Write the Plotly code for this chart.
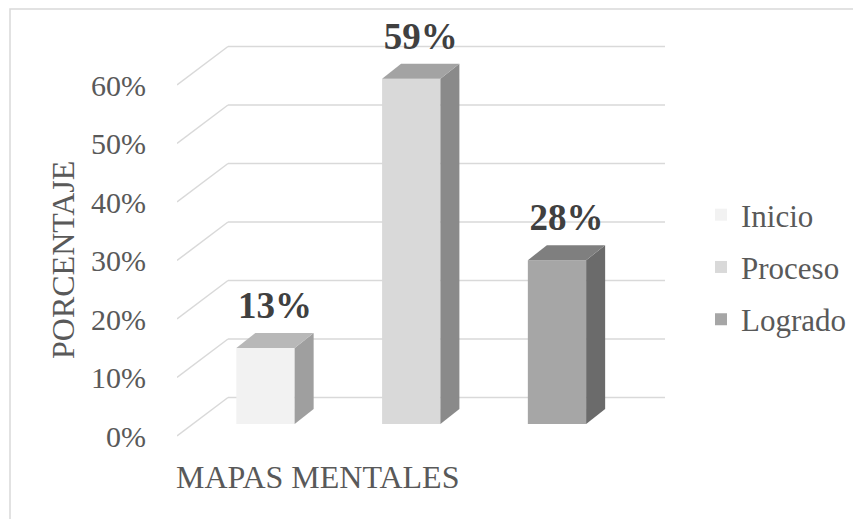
import plotly.graph_objects as go

# ---- data ----
categories = ["Inicio", "Proceso", "Logrado"]
values = [13, 59, 28]
value_labels = ["13%", "59%", "28%"]
tick_values = [0, 10, 20, 30, 40, 50, 60]
tick_labels = ["0%", "10%", "20%", "30%", "40%", "50%", "60%"]
x_title = "MAPAS MENTALES"
y_title = "PORCENTAJE"

# ---- styling ----
front_colors = ["#f2f2f2", "#d9d9d9", "#a6a6a6"]
top_colors = ["#b8b8b8", "#a3a3a3", "#7f7f7f"]
side_colors = ["#9f9f9f", "#8a8a8a", "#6b6b6b"]
grid_color = "#d9d9d9"
text_color = "#595959"
FONT = "Liberation Serif, Times New Roman, serif"

W, H = 861, 519
PAGE_OFF = 8                     # browser body margin
# plot area in screen px
SX0, SX1, SY0, SY1 = 177, 665, 30, 465
L, T = SX0 - PAGE_OFF, SY0 - PAGE_OFF
R, B = W - (SX1 - PAGE_OFF), H - (SY1 - PAGE_OFF)
PW, PH = SX1 - SX0, SY1 - SY0

def px(sx):
    return (sx - SX0) / PW

def py(sy):
    return (SY1 - sy) / PH

X_ORIGIN, Y_ORIGIN = 265.5, 424      # screen px of category 0 / value 0 (bar plane)
X_UNIT = 145.75                      # px per category step
Y_UNIT = 5.85                        # px per 1 %
bar_w = 0.4
bar_dx, bar_dy = 19 / X_UNIT, 15 / Y_UNIT      # bar depth projection
wall_dy = 26.5 / Y_UNIT                         # back wall above bar plane
front_dy = -12 / Y_UNIT                         # front floor edge
wall_x0 = (228 - X_ORIGIN) / X_UNIT
wall_x1 = (665 - X_ORIGIN) / X_UNIT
diag_x0 = (177 - X_ORIGIN) / X_UNIT

x_range = [(SX0 - X_ORIGIN) / X_UNIT, (SX1 - X_ORIGIN) / X_UNIT]
y_range = [(Y_ORIGIN - SY1) / Y_UNIT, (Y_ORIGIN - SY0) / Y_UNIT]

fig = go.Figure()
xs = list(range(len(categories)))

# front faces
for i, (c, v) in enumerate(zip(categories, values)):
    fig.add_trace(go.Bar(
        x=[xs[i]], y=[v], width=bar_w, name=c,
        marker=dict(color=front_colors[i], line=dict(width=0)),
        legendgroup=c, showlegend=True, hoverinfo="skip",
    ))

# side + top faces
for i, v in enumerate(values):
    xl, xrt = xs[i] - bar_w / 2, xs[i] + bar_w / 2
    fig.add_trace(go.Scatter(
        x=[xrt, xrt + bar_dx, xrt + bar_dx, xrt, xrt],
        y=[0, bar_dy, v + bar_dy, v, 0],
        fill="toself", fillcolor=side_colors[i], mode="lines",
        line=dict(width=0, color=side_colors[i]), showlegend=False, hoverinfo="skip",
    ))
    fig.add_trace(go.Scatter(
        x=[xl, xrt, xrt + bar_dx, xl + bar_dx, xl],
        y=[v, v, v + bar_dy, v + bar_dy, v],
        fill="toself", fillcolor=top_colors[i], mode="lines",
        line=dict(width=0, color=top_colors[i]), showlegend=False, hoverinfo="skip",
    ))

# data labels
fig.add_trace(go.Scatter(
    x=[x + bar_dx / 2 for x in xs],
    y=[v + bar_dy + 4.2 for v in values],
    mode="text", text=value_labels, textposition="middle center",
    textfont=dict(family=FONT, size=37, color="#404040", weight="bold"),
    showlegend=False, hoverinfo="skip", cliponaxis=False,
))

shapes = []
for t in tick_values:
    shapes.append(dict(type="line", xref="x", yref="y", layer="below",
                       x0=wall_x0, x1=wall_x1, y0=t + wall_dy, y1=t + wall_dy,
                       line=dict(color=grid_color, width=1.5)))
    shapes.append(dict(type="line", xref="x", yref="y", layer="below",
                       x0=diag_x0, x1=wall_x0, y0=t + front_dy, y1=t + wall_dy,
                       line=dict(color=grid_color, width=1.5)))
# outer chart border
shapes.append(dict(type="rect", xref="paper", yref="paper",
                   x0=px(10), x1=px(860), y0=py(540), y1=py(9),
                   line=dict(color="#d9d9d9", width=1.5), fillcolor="rgba(0,0,0,0)",
                   layer="below"))

annotations = [
    dict(text=x_title, xref="paper", yref="paper",
         x=px(317), y=py(477), showarrow=False,
         font=dict(family=FONT, size=32, color=text_color),
         xanchor="center", yanchor="middle"),
    dict(text=y_title, xref="paper", yref="paper", textangle=-90,
         x=px(63), y=py(260), showarrow=False,
         font=dict(family=FONT, size=32, color=text_color),
         xanchor="center", yanchor="middle"),
]

fig.update_layout(
    width=W, height=H,
    margin=dict(l=L, r=R, t=T, b=B),
    paper_bgcolor="white", plot_bgcolor="white",
    barmode="overlay",
    showlegend=True,
    legend=dict(x=px(701), y=py(188), xanchor="left", yanchor="top",
                font=dict(family=FONT, size=31, color=text_color),
                tracegroupgap=9, bgcolor="rgba(0,0,0,0)"),
    xaxis=dict(range=x_range, showgrid=False, zeroline=False, showticklabels=False,
               showline=False, fixedrange=True),
    yaxis=dict(range=y_range, showgrid=False, zeroline=False, showline=False,
               tickmode="array", tickvals=[t + front_dy for t in tick_values],
               ticktext=tick_labels, ticks="", ticklabelstandoff=30,
               tickfont=dict(family=FONT, size=30, color=text_color), fixedrange=True),
    shapes=shapes, annotations=annotations,
)

fig.write_html("out.html")
